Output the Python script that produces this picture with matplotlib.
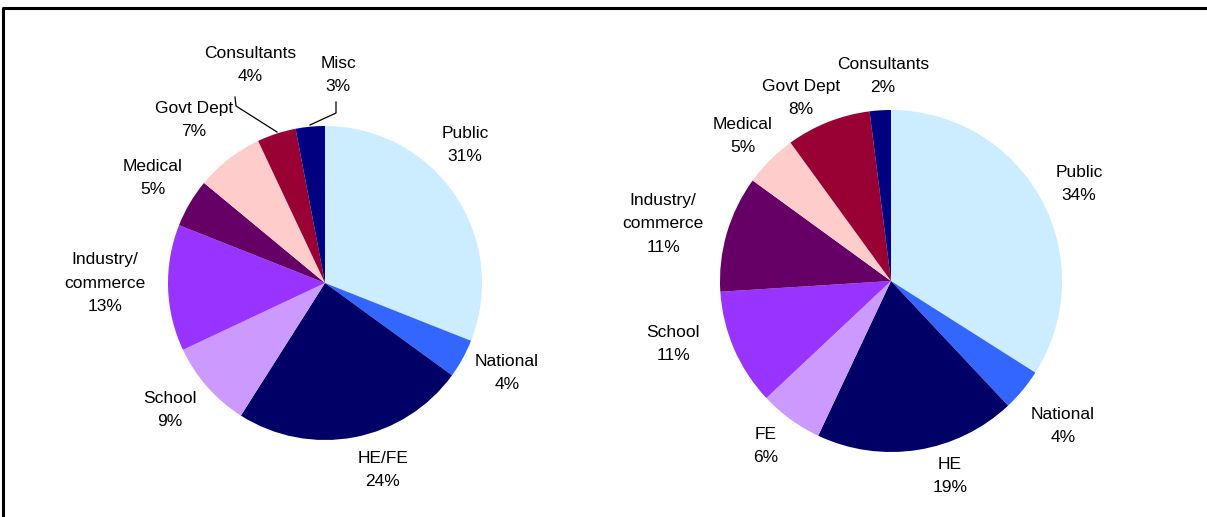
import matplotlib
matplotlib.use("Agg")
import matplotlib.pyplot as plt

plt.rcParams['font.family'] = ['Liberation Sans', 'DejaVu Sans']

# left pie
left_labels = ["Public", "National", "HE/FE", "School", "Industry/\ncommerce",
               "Medical", "Govt Dept", "Consultants", "Misc"]
left_values = [31, 4, 24, 9, 13, 5, 7, 4, 3]
left_colors = ["#CCECFF", "#3366FF", "#000066", "#CC99FF", "#9933FF",
               "#660066", "#FFCCCC", "#990033", "#000080"]

# right pie
right_labels = ["Public", "National", "HE", "FE", "School", "Industry/\ncommerce",
                "Medical", "Govt Dept", "Consultants"]
right_values = [34, 4, 19, 6, 11, 11, 5, 8, 2]
right_colors = ["#CCECFF", "#3366FF", "#000066", "#CC99FF", "#9933FF",
                "#660066", "#FFCCCC", "#990033", "#000080"]

W, H = 1207, 517
fig = plt.figure(figsize=(W / 100, H / 100), dpi=100)
ax = fig.add_axes([0, 0, 1, 1])

# label anchor points in pixel coords (x, y from top)
left_pos = [(465, 145), (507, 373), (383, 470), (170, 410), (105, 283),
            (153, 178), (194, 120), (250, 65), (338, 75)]
right_pos = [(1079, 184), (1063, 426), (950, 476), (766, 446), (673, 344),
             (663, 224), (743, 136), (801, 98), (883, 76)]


def draw_pie(values, colors, labels, positions, cx, cy, r):
    ax.pie(values, colors=colors, startangle=90, counterclock=False,
           center=(cx, H - cy), radius=r, frame=True,
           wedgeprops=dict(linewidth=0, antialiased=True))
    for lab, v, (x, y) in zip(labels, values, positions):
        ax.text(x, H - y, f"{lab}\n{v}%", ha="center", va="center",
                fontsize=12.5, linespacing=1.72, color="black")


draw_pie(left_values, left_colors, left_labels, left_pos, 325, 283, 157)
draw_pie(right_values, right_colors, right_labels, right_pos, 891, 281, 171)

# leader lines for the small slices on the left pie
ax.plot([235, 236, 277], [H - 97, H - 106, H - 132], color="black", lw=0.9)
ax.plot([336, 336, 310], [H - 102, H - 113, H - 125], color="black", lw=0.9)

# outer frame (top and left edges visible)
ax.plot([2.5, 2.5, W + 5], [-5, H - 8, H - 8], color="black", lw=2.2)

ax.set_xlim(0, W)
ax.set_ylim(0, H)
ax.set_aspect("equal")
ax.axis("off")

fig.savefig("out.png", dpi=100, facecolor="white")
